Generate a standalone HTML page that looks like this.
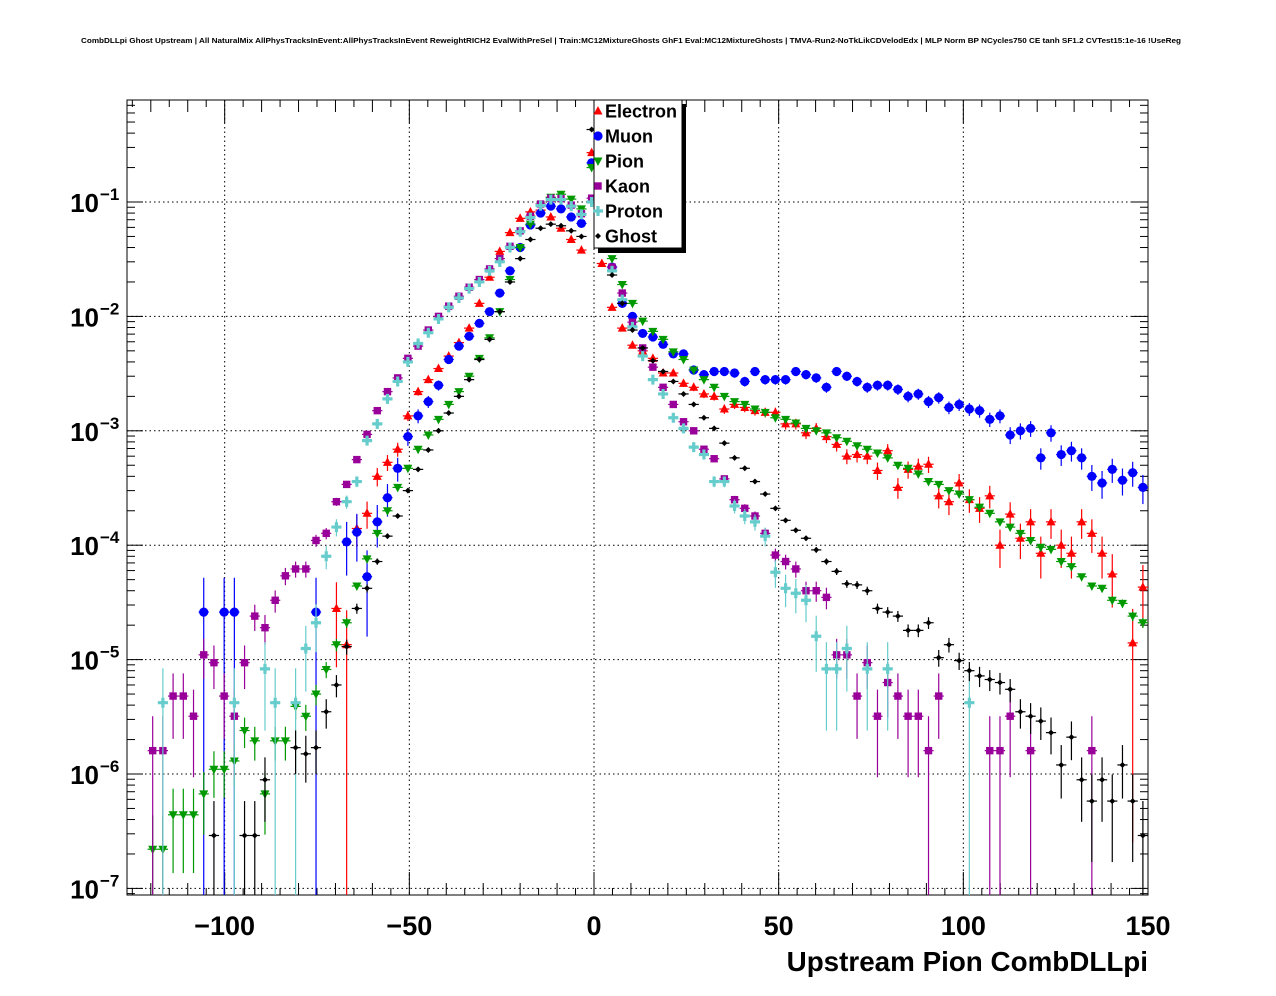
<!DOCTYPE html>
<html><head><meta charset="utf-8"><style>
html,body{margin:0;padding:0;background:#fff;}
svg{display:block;font-family:"Liberation Sans",sans-serif;}
</style></head><body>
<svg id="chart" width="1276" height="996" viewBox="0 0 1276 996" xmlns="http://www.w3.org/2000/svg">
<rect x="0" y="0" width="1276" height="996" fill="#fff"/>
<text x="631" y="43" text-anchor="middle" font-size="7.6" font-weight="bold" textLength="1100" lengthAdjust="spacingAndGlyphs">CombDLLpi Ghost Upstream | All NaturalMix AllPhysTracksInEvent:AllPhysTracksInEvent ReweightRICH2 EvalWithPreSel | Train:MC12MixtureGhosts GhF1 Eval:MC12MixtureGhosts | TMVA-Run2-NoTkLikCDVelodEdx | MLP Norm BP NCycles750 CE tanh SF1.2 CVTest15:1e-16 !UseReg</text>
<g id="grid"></g>
<g id="axes"></g>
<g id="plot"></g>
<text x="1148" y="971" text-anchor="end" font-size="27.8" font-weight="bold">Upstream Pion CombDLLpi</text>
<g id="legend"></g>
</svg>
<script>
const xMin = -126.4, xMax = 150, nBins = 100;
const xTicks = [-100, -50, 0, 50, 100, 150];
const xTickLabels = ["\u2212100", "\u221250", "0", "50", "100", "150"];
const yDecades = [-7, -6, -5, -4, -3, -2, -1];
const seriesNames = ["Electron", "Muon", "Pion", "Kaon", "Proton", "Ghost"];
const electron = [0,0,0,0,0,0,0,0,0,0,0,0,0,0,0,0,0,0,0,0,2.8e-5,1.35e-5,1.4e-4,1.9e-4,4.0e-4,5.3e-4,6.9e-4,1.35e-3,2.2e-3,2.8e-3,3.5e-3,4.5e-3,5.9e-3,7.9e-3,1.3e-2,2.2e-2,3.7e-2,5.4e-2,7.2e-2,8.2e-2,8.5e-2,7.4e-2,5.9e-2,4.7e-2,3.8e-2,0.27,2.9e-2,1.2e-2,7.9e-3,5.6e-3,5.0e-3,4.3e-3,3.2e-3,3.2e-3,2.6e-3,2.4e-3,2.1e-3,2.0e-3,1.55e-3,1.7e-3,1.6e-3,1.5e-3,1.45e-3,1.45e-3,1.15e-3,1.15e-3,9.6e-4,1.05e-3,8.9e-4,7.6e-4,6.0e-4,6.2e-4,6.0e-4,4.5e-4,6.7e-4,3.2e-4,4.6e-4,4.9e-4,5.1e-4,2.7e-4,2.4e-4,3.5e-4,2.5e-4,2.1e-4,2.7e-4,1.0e-4,1.87e-4,1.15e-4,1.6e-4,8.5e-5,1.6e-4,1.0e-4,8.5e-5,1.6e-4,1.27e-4,8.5e-5,5.6e-5,0,1.4e-5,4.3e-5];
const muon = [0,0,0,0,0,0,0,2.6e-5,0,2.6e-5,2.6e-5,0,0,0,0,0,0,0,2.6e-5,0,0,1.07e-4,1.3e-4,5.3e-5,1.6e-4,2.6e-4,4.7e-4,8.9e-4,1.35e-3,1.8e-3,2.5e-3,4.2e-3,5.5e-3,6.7e-3,8.7e-3,1.1e-2,1.6e-2,2.5e-2,4.0e-2,6.3e-2,8.0e-2,9.2e-2,8.7e-2,7.4e-2,6.5e-2,0.22,0.05,2.7e-2,1.3e-2,1.0e-2,7.1e-3,6.6e-3,5.7e-3,4.7e-3,4.7e-3,3.4e-3,3.1e-3,3.3e-3,3.3e-3,3.2e-3,2.7e-3,3.3e-3,2.8e-3,2.8e-3,2.8e-3,3.3e-3,3.1e-3,2.9e-3,2.4e-3,3.3e-3,3.0e-3,2.7e-3,2.4e-3,2.5e-3,2.5e-3,2.3e-3,2.0e-3,2.1e-3,1.8e-3,1.95e-3,1.6e-3,1.7e-3,1.55e-3,1.5e-3,1.26e-3,1.35e-3,9.2e-4,1.0e-3,1.05e-3,5.8e-4,9.6e-4,6.2e-4,6.7e-4,5.8e-4,4.0e-4,3.5e-4,4.6e-4,3.7e-4,4.3e-4,3.2e-4];
const pion = [0,0,2.2e-7,2.2e-7,4.4e-7,4.4e-7,4.4e-7,6.7e-7,1.1e-6,1.1e-6,1.3e-6,2.4e-6,1.95e-6,6.7e-7,1.95e-6,1.95e-6,3.9e-6,3.2e-6,5.0e-6,8.2e-6,1.35e-5,2.1e-5,4.4e-5,7.6e-5,1.27e-4,2.0e-4,3.2e-4,4.7e-4,6.9e-4,9.2e-4,1.26e-3,1.7e-3,2.2e-3,3.0e-3,4.3e-3,6.5e-3,1.1e-2,2.1e-2,4.0e-2,6.4e-2,9.4e-2,0.11,0.117,0.106,0.087,0.2,0.05,3.2e-2,1.9e-2,1.3e-2,9.1e-3,7.4e-3,6.3e-3,4.9e-3,4.2e-3,3.4e-3,2.8e-3,2.4e-3,2.0e-3,1.8e-3,1.7e-3,1.55e-3,1.45e-3,1.3e-3,1.26e-3,1.17e-3,1.05e-3,1.0e-3,9.6e-4,8.7e-4,8.1e-4,7.4e-4,6.9e-4,6.4e-4,5.8e-4,5.0e-4,4.7e-4,4.2e-4,3.6e-4,3.4e-4,3.0e-4,2.8e-4,2.5e-4,2.15e-4,1.9e-4,1.6e-4,1.44e-4,1.27e-4,1.1e-4,9.6e-5,9.2e-5,7.2e-5,6.5e-5,5.3e-5,4.4e-5,4.2e-5,3.3e-5,3.1e-5,2.4e-5,2.1e-5];
const kaon = [0,0,1.6e-6,1.6e-6,4.8e-6,4.8e-6,3.2e-6,1.1e-5,9.4e-6,4.8e-6,3.2e-6,9.4e-6,2.4e-5,1.9e-5,3.3e-5,5.4e-5,6.2e-5,6.2e-5,1.1e-4,1.27e-4,2.4e-4,3.4e-4,5.6e-4,9.3e-4,1.5e-3,2.2e-3,2.9e-3,4.3e-3,5.5e-3,7.6e-3,1.0e-2,1.23e-2,1.5e-2,1.8e-2,2.1e-2,2.6e-2,3.2e-2,4.1e-2,5.6e-2,7.5e-2,9.6e-2,0.108,0.107,0.094,0.079,0.108,0.05,2.7e-2,1.6e-2,8.9e-3,5.3e-3,3.6e-3,2.4e-3,1.7e-3,1.2e-3,1.0e-3,6.9e-4,5.7e-4,3.8e-4,2.5e-4,2.1e-4,1.8e-4,1.27e-4,8.2e-5,7.2e-5,6.2e-5,4.0e-5,4.0e-5,3.5e-5,1.1e-5,1.1e-5,4.8e-6,9.4e-6,3.2e-6,6.3e-6,4.8e-6,3.2e-6,3.2e-6,1.6e-6,4.8e-6,0,0,0,0,1.6e-6,1.6e-6,3.2e-6,0,1.6e-6,0,0,0,0,0,1.6e-6,0,0,0,0,0];
const proton = [0,0,0,4.2e-6,0,0,0,0,0,0,4.2e-6,0,0,8.3e-6,4.2e-6,0,4.2e-6,1.25e-5,2.1e-5,8.0e-5,1.44e-4,2.4e-4,3.6e-4,8.2e-4,1.15e-3,1.9e-3,2.7e-3,4.0e-3,5.8e-3,7.2e-3,9.5e-3,1.2e-2,1.45e-2,1.75e-2,2.0e-2,2.5e-2,3.0e-2,4.0e-2,5.5e-2,7.3e-2,9.3e-2,0.105,0.105,0.092,0.078,0.1,0.05,2.5e-2,1.4e-2,8.1e-3,4.5e-3,2.8e-3,2.1e-3,1.3e-3,1.05e-3,7.2e-4,6.2e-4,3.6e-4,3.6e-4,2.2e-4,1.8e-4,1.6e-4,1.2e-4,5.8e-5,4.2e-5,3.8e-5,3.3e-5,1.6e-5,8.3e-6,8.3e-6,1.25e-5,0,8.3e-6,0,8.3e-6,0,0,0,0,0,0,0,4.2e-6,0,0,0,0,0,0,0,0,0,0,0,0,0,0,0,0,0];
const ghost = [0,0,0,0,0,0,0,0,2.9e-7,0,0,2.9e-7,2.9e-7,8.9e-7,0,0,1.7e-6,1.5e-6,1.7e-6,3.5e-6,6.0e-6,1.3e-5,2.8e-5,4.2e-5,7.2e-5,1.2e-4,1.8e-4,3.0e-4,4.6e-4,6.8e-4,1.0e-3,1.43e-3,2.0e-3,2.8e-3,4.2e-3,6.3e-3,1.1e-2,2.0e-2,3.2e-2,4.7e-2,5.9e-2,6.4e-2,6.2e-2,5.6e-2,5.0e-2,0.43,0.05,2.3e-2,1.3e-2,7.6e-3,5.3e-3,4.1e-3,3.3e-3,2.7e-3,2.1e-3,1.7e-3,1.3e-3,1.05e-3,7.8e-4,5.8e-4,4.7e-4,3.6e-4,2.8e-4,2.1e-4,1.65e-4,1.35e-4,1.15e-4,9.1e-5,7.2e-5,5.9e-5,4.6e-5,4.5e-5,4.0e-5,2.8e-5,2.6e-5,2.4e-5,1.8e-5,1.8e-5,2.1e-5,1.04e-5,1.35e-5,9.8e-6,8.0e-6,7.2e-6,6.7e-6,6.3e-6,5.5e-6,3.5e-6,3.2e-6,2.9e-6,2.3e-6,1.2e-6,2.1e-6,8.9e-7,5.8e-7,8.9e-7,5.8e-7,1.2e-6,5.8e-7,2.9e-7];
const unitWeights = [1.35e-5, 2.6e-5, 2.1e-7, 1.6e-6, 4.2e-6, 2.9e-7];

const NS = "http://www.w3.org/2000/svg";
const L = 127, R = 1148, T = 100, B = 895;
const X0 = 594, XS = 3.6933, Y1 = 202, YS = 114.4;
function xp(v){ return X0 + v * XS; }
function yp(v){ return Y1 - (Math.log10(v) + 1) * YS; }
function mk(tag, attrs, parent){
  const e = document.createElementNS(NS, tag);
  for (const k in attrs) e.setAttribute(k, attrs[k]);
  parent.appendChild(e);
  return e;
}
const grid = document.getElementById('grid');
const axes = document.getElementById('axes');
const plot = document.getElementById('plot');
const legend = document.getElementById('legend');

xTicks.forEach(t => {
  const x = xp(t);
  if (x > L + 1 && x < R - 1) {
    const g = mk('line', {x1:x, y1:T, x2:x, y2:B, stroke:'#000', 'stroke-width':1, 'stroke-dasharray':'1.5,3'}, grid);
    
    
  }
});
yDecades.forEach(d => {
  const y = yp(Math.pow(10, d));
  const g = mk('line', {x1:L, y1:y, x2:R, y2:y, stroke:'#000', 'stroke-width':1, 'stroke-dasharray':'1.5,3'}, grid);
  
  
});

const frame = mk('rect', {x:L, y:T, width:R-L, height:B-T, fill:'none', stroke:'#000', 'stroke-width':1}, axes);



for (let v = -120; v <= 150; v += 10) {
  const x = xp(v);
  const major = (v % 50 === 0);
  const len = major ? 23 : 12;
  mk('line', {x1:x, y1:B, x2:x, y2:B-len, stroke:'#000', 'stroke-width':1}, axes);
  mk('line', {x1:x, y1:T, x2:x, y2:T+len, stroke:'#000', 'stroke-width':1}, axes);
}
for (let v = -125; v <= 150; v += 5) {
  if (v % 10 === 0) continue;
  const x = xp(v);
  mk('line', {x1:x, y1:B, x2:x, y2:B-7, stroke:'#000', 'stroke-width':1}, axes);
  mk('line', {x1:x, y1:T, x2:x, y2:T+7, stroke:'#000', 'stroke-width':1}, axes);
}
xTicks.forEach((t, i) => {
  const tx = mk('text', {x:xp(t), y:935, 'text-anchor':'middle', 'font-size':27, 'font-weight':'bold'}, axes);
  tx.textContent = xTickLabels[i];
  
  
});

for (let d = -8; d <= 0; d++) {
  for (let m = 1; m <= 9; m++) {
    const y = yp(m * Math.pow(10, d));
    if (y < T || y > B) continue;
    const len = m === 1 ? 16 : 8;
    mk('line', {x1:L, y1:y, x2:L+len, y2:y, stroke:'#000', 'stroke-width':1}, axes);
    mk('line', {x1:R, y1:y, x2:R-len, y2:y, stroke:'#000', 'stroke-width':1}, axes);
  }
}
yDecades.forEach(d => {
  const y = yp(Math.pow(10, d));
  const t = mk('text', {x:99, y:y+10, 'text-anchor':'end', 'font-size':26, 'font-weight':'bold'}, axes);
  t.textContent = '10';
  
  
  const s = mk('text', {x:100, y:y-2, 'text-anchor':'start', 'font-size':17, 'font-weight':'bold'}, axes);
  s.textContent = '\u2212' + (-d);
  
  
});

const colors = ['#ff0000', '#0000ff', '#009900', '#990099', '#66cccc', '#000000'];
function marker(kind, x, y, c, parent){
  let e;
  if (kind === 0) e = mk('polygon', {points:`${x},${y-5} ${x-4.5},${y+3.5} ${x+4.5},${y+3.5}`, fill:c}, parent);
  else if (kind === 1) e = mk('circle', {cx:x, cy:y, r:4.6, fill:c}, parent);
  else if (kind === 2) e = mk('polygon', {points:`${x},${y+5} ${x-4.5},${y-3.5} ${x+4.5},${y-3.5}`, fill:c}, parent);
  else if (kind === 3) e = mk('rect', {x:x-3.7, y:y-3.7, width:7.4, height:7.4, fill:c}, parent);
  else if (kind === 4) e = mk('path', {d:`M${x-1.6},${y-5}h3.2v3.4h3.4v3.2h-3.4v3.4h-3.2v-3.4h-3.4v-3.2h3.4z`, fill:c}, parent);
  else e = mk('polygon', {points:`${x},${y-3} ${x+3},${y} ${x},${y+3} ${x-3},${y}`, fill:c}, parent);
  return e;
}
const allSeries = [electron, muon, pion, kaon, proton, ghost];
const bw = (xMax - xMin) / nBins;
function xmid(i){ return xMin + (i + 0.5) * bw; }
allSeries.forEach((vals, s) => {
  const g = mk('g', {}, plot);
  
  
  const c = colors[s];
  vals.forEach((v, i) => {
    if (!(v > 0)) return;
    const cx = xmid(i);
    const x = xp(cx);
    const y = yp(v);
    const err = Math.sqrt(v * unitWeights[s]);
    const yTop = Math.max(T, yp(v + err));
    const yBot = (v - err) > 1e-9 ? Math.min(B, yp(v - err)) : B;
    const pt = mk('g', {}, g);
    
    
    const hx1 = Math.max(L, xp(cx - bw / 2)), hx2 = Math.min(R, xp(cx + bw / 2));
    mk('line', {x1:hx1, y1:y, x2:hx2, y2:y, stroke:c, 'stroke-width':1.2}, pt);
    mk('line', {x1:x, y1:yTop, x2:x, y2:yBot, stroke:c, 'stroke-width':1.2}, pt);
    marker(s, x, y, c, pt);
  });
});

mk('rect', {x:598, y:104, width:88, height:149, fill:'#000'}, legend);
const lb = mk('rect', {x:594, y:100, width:88, height:148, fill:'#fff', stroke:'#000', 'stroke-width':1}, legend);


seriesNames.forEach((n, s) => {
  const y = 111 + s * 25;
  const eg = mk('g', {}, legend);
  
  
  marker(s, 598, y, colors[s], eg);
  const t = mk('text', {x:605, y:y+6.5, 'font-size':18, 'font-weight':'bold'}, eg);
  t.textContent = n;
});
</script>
</body></html>
